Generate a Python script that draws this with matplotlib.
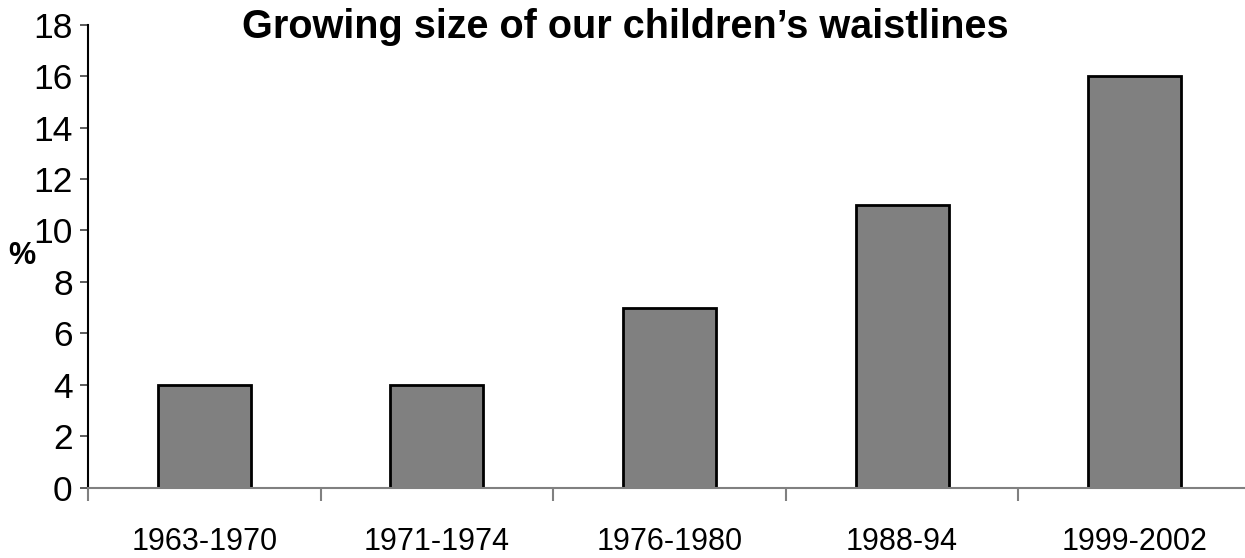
import matplotlib
matplotlib.use("Agg")
import matplotlib.pyplot as plt
from matplotlib.ticker import FixedLocator

categories = ["1963-1970", "1971-1974", "1976-1980", "1988-94", "1999-2002"]
values = [4, 4, 7, 11, 16]
y_ticks = [0, 2, 4, 6, 8, 10, 12, 14, 16, 18]

W, H = 1245, 558
fig = plt.figure(figsize=(W / 100, H / 100), dpi=100)
plt.rcParams["font.family"] = ["Liberation Sans", "DejaVu Sans"]

left, right, top, bottom = 88, 1251, 24.7, 487.7
ax = fig.add_axes([left / W, (H - bottom) / H, (right - left) / W, (bottom - top) / H])

x = list(range(len(categories)))
ax.bar(x, values, width=0.40, color="#808080", edgecolor="black", linewidth=2.0, zorder=3)

ax.set_xlim(-0.5, len(categories) - 0.5)
ax.set_ylim(0, 18)
ax.set_yticks(y_ticks)
ax.set_yticklabels([str(v) for v in y_ticks], fontsize=25.5)
ax.tick_params(axis="y", direction="out", length=6, width=1.2, color="#404040", pad=5)

ax.set_xticks(x)
ax.set_xticklabels(categories, fontsize=22)
ax.tick_params(axis="x", which="major", length=0, pad=28)
ax.xaxis.set_minor_locator(FixedLocator([i - 0.5 for i in range(len(categories) + 1)]))
ax.tick_params(axis="x", which="minor", direction="out", length=9, width=1.5, color="#808080")

for s in ["top", "right"]:
    ax.spines[s].set_visible(False)
ax.spines["left"].set_color("black")
ax.spines["left"].set_linewidth(1.5)
ax.spines["bottom"].set_color("#808080")
ax.spines["bottom"].set_linewidth(1.5)
ax.spines["bottom"].set_zorder(4)

fig.text(625 / W, (H - 38) / H, "Growing size of our children\u2019s waistlines",
         ha="center", va="baseline", fontsize=28.5, fontweight="bold")
fig.text(22 / W, (H - 256) / H, "%", ha="center", va="center", fontsize=22, fontweight="bold")

fig.savefig("out.png", dpi=100, facecolor="white")
